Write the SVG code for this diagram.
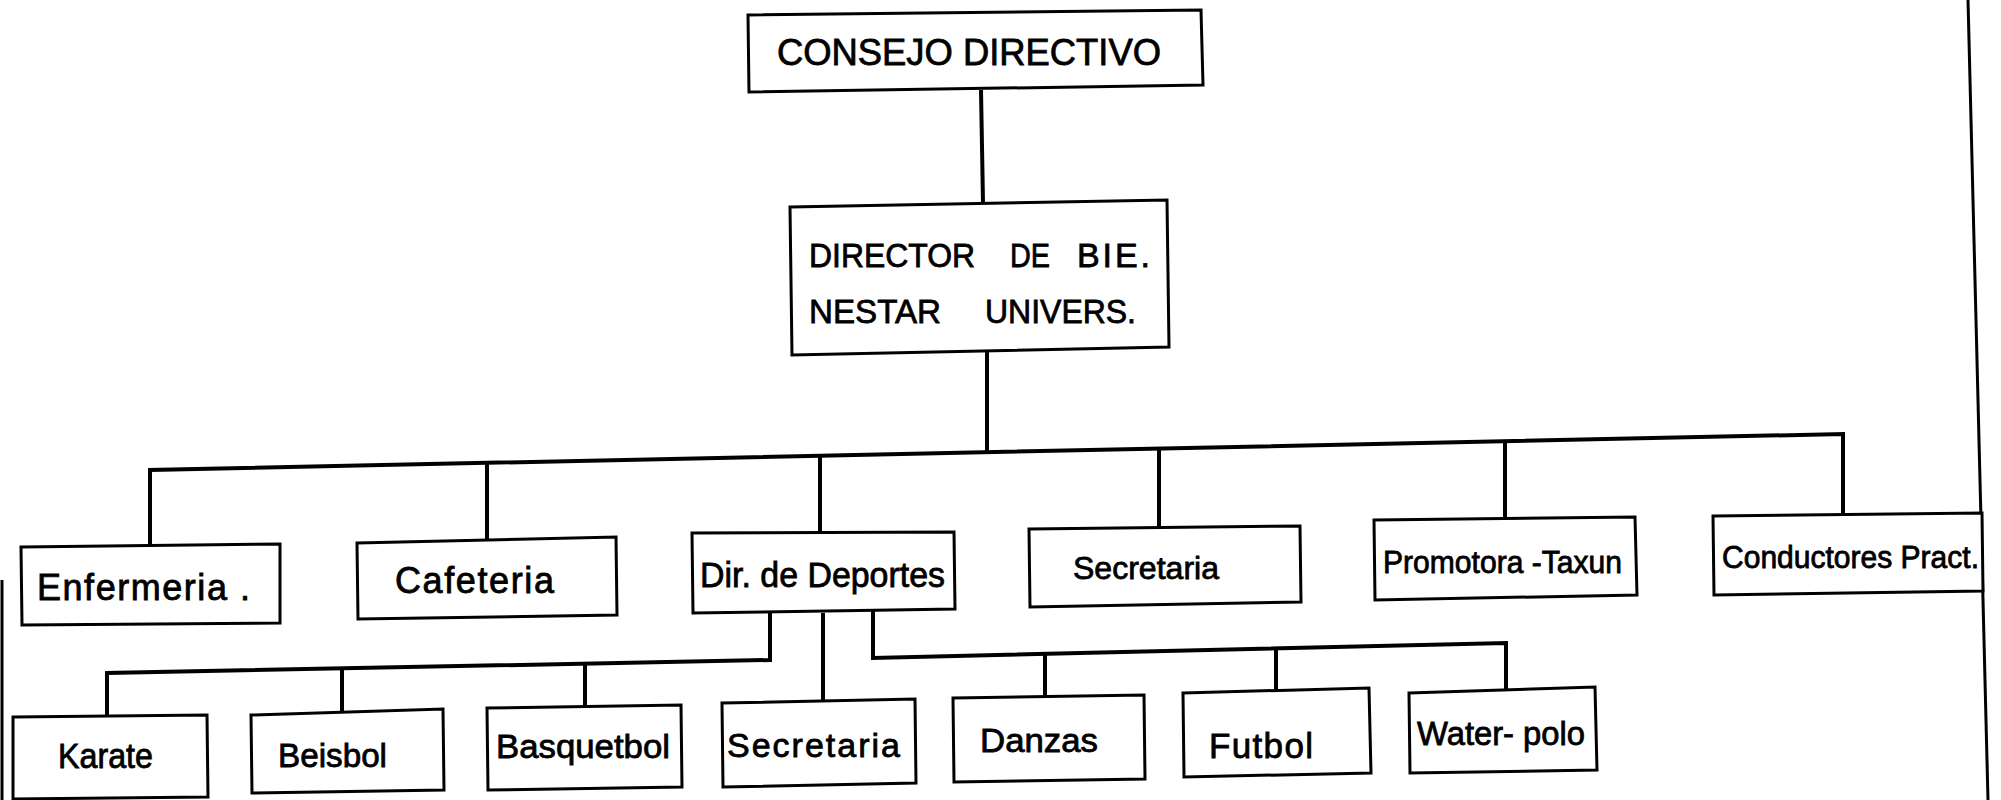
<svg xmlns="http://www.w3.org/2000/svg" width="2001" height="800" viewBox="0 0 2001 800">
<style>
  .box { fill: #ffffff; stroke: #000000; stroke-width: 3; stroke-linejoin: miter; }
  .conn { fill: none; stroke: #000000; stroke-width: 4; stroke-linejoin: miter; }
  .edge { fill: none; stroke: #000000; stroke-width: 3; }
  .t { font-family: "Liberation Sans", Arial, sans-serif; fill: #000000; stroke: #000000; stroke-width: 0.8; }
</style>
<rect width="2001" height="800" fill="#ffffff"/>
<g id="page-edges">
  <line class="edge" x1="1968" y1="0" x2="1988" y2="800"/>
  <line class="edge" x1="2" y1="580" x2="2" y2="800" stroke-width="2"/>
</g>
<g id="connectors">
  <path class="conn" d="M981,90 L983,203"/>
  <path class="conn" d="M987,350 V452"/>
  <path class="conn" d="M150,546 V470 L1843,434 V516"/>
  <path class="conn" d="M487,463 V541"/>
  <path class="conn" d="M820,456 V533"/>
  <path class="conn" d="M1159,448 V527"/>
  <path class="conn" d="M1505,441 V518"/>
  <path class="conn" d="M770,612 V660 L107,673 V717"/>
  <path class="conn" d="M342,668 V711"/>
  <path class="conn" d="M585,664 V707"/>
  <path class="conn" d="M823,613 V701"/>
  <path class="conn" d="M873,611 V658 L1506,643 V690"/>
  <path class="conn" d="M1045,654 V697"/>
  <path class="conn" d="M1276,649 V690"/>
</g>
<g id="consejo-directivo">
  <polygon class="box" points="748,15 1201,10 1203,85 749,92"/>
  <text class="t" x="777" y="65" font-size="37" textLength="384" lengthAdjust="spacingAndGlyphs">CONSEJO DIRECTIVO</text>
</g>
<g id="director-bienestar">
  <polygon class="box" points="790,207 1167,200 1169,347 792,355"/>
  <text class="t" y="267" font-size="34"><tspan x="809" textLength="166" lengthAdjust="spacingAndGlyphs">DIRECTOR</tspan><tspan x="1010" textLength="40" lengthAdjust="spacingAndGlyphs">DE</tspan><tspan x="1077" textLength="73" lengthAdjust="spacing">BIE.</tspan></text>
  <text class="t" y="323" font-size="34"><tspan x="809" textLength="132" lengthAdjust="spacingAndGlyphs">NESTAR</tspan><tspan x="985" textLength="151" lengthAdjust="spacingAndGlyphs">UNIVERS.</tspan></text>
</g>
<g id="enfermeria">
  <polygon class="box" points="21,547 280,544 280,623 22,625"/>
  <text class="t" x="37" y="600" font-size="36" textLength="213" lengthAdjust="spacing">Enfermeria .</text>
</g>
<g id="cafeteria">
  <polygon class="box" points="357,543 616,537 617,615 358,619"/>
  <text class="t" x="395" y="593" font-size="36" textLength="159" lengthAdjust="spacing">Cafeteria</text>
</g>
<g id="dir-deportes">
  <polygon class="box" points="692,533 954,532 955,609 693,613"/>
  <text class="t" x="700" y="587" font-size="35" textLength="245" lengthAdjust="spacingAndGlyphs">Dir. de Deportes</text>
</g>
<g id="secretaria-1">
  <polygon class="box" points="1029,529 1300,526 1301,602 1030,607"/>
  <text class="t" x="1073" y="579" font-size="32" textLength="146" lengthAdjust="spacingAndGlyphs">Secretaria</text>
</g>
<g id="promotora-taxun">
  <polygon class="box" points="1374,520 1635,517 1637,595 1375,600"/>
  <text class="t" x="1383" y="573" font-size="32" textLength="239" lengthAdjust="spacingAndGlyphs">Promotora -Taxun</text>
</g>
<g id="conductores">
  <polygon class="box" points="1713,516 1982,513 1983,591 1714,595"/>
  <text class="t" x="1722" y="568" font-size="31" textLength="257" lengthAdjust="spacingAndGlyphs">Conductores Pract.</text>
</g>
<g id="karate">
  <polygon class="box" points="13,717 207,715 208,797 13,799"/>
  <text class="t" x="58" y="768" font-size="35" textLength="95" lengthAdjust="spacingAndGlyphs">Karate</text>
</g>
<g id="beisbol">
  <polygon class="box" points="251,715 443,709 444,790 252,793"/>
  <text class="t" x="278" y="767" font-size="33" textLength="109" lengthAdjust="spacingAndGlyphs">Beisbol</text>
</g>
<g id="basquetbol">
  <polygon class="box" points="487,708 681,705 682,787 488,790"/>
  <text class="t" x="496" y="758" font-size="33" textLength="174" lengthAdjust="spacingAndGlyphs">Basquetbol</text>
</g>
<g id="secretaria-2">
  <polygon class="box" points="722,703 915,699 916,783 723,787"/>
  <text class="t" x="727" y="757" font-size="34" textLength="173" lengthAdjust="spacing">Secretaria</text>
</g>
<g id="danzas">
  <polygon class="box" points="953,698 1144,695 1145,779 954,782"/>
  <text class="t" x="980" y="752" font-size="33" textLength="118" lengthAdjust="spacingAndGlyphs">Danzas</text>
</g>
<g id="futbol">
  <polygon class="box" points="1183,693 1369,688 1371,773 1184,777"/>
  <text class="t" x="1209" y="758" font-size="35" textLength="104" lengthAdjust="spacing">Futbol</text>
</g>
<g id="water-polo">
  <polygon class="box" points="1409,693 1595,687 1597,770 1410,773"/>
  <text class="t" x="1417" y="745" font-size="33" textLength="168" lengthAdjust="spacingAndGlyphs">Water- polo</text>
</g>
</svg>
